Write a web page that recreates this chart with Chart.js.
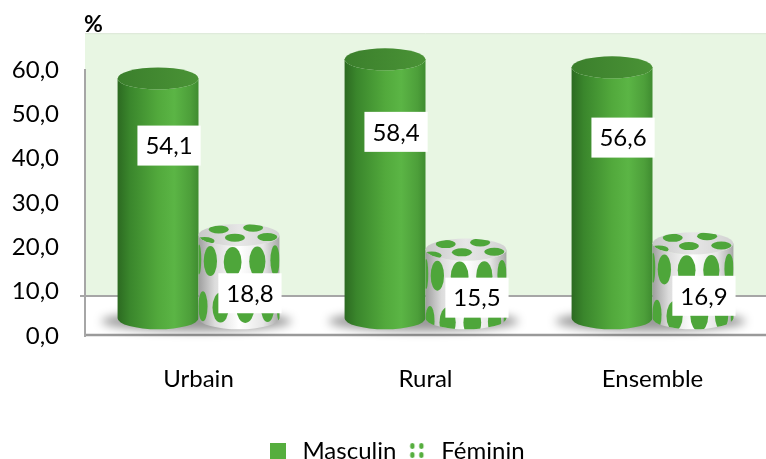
<!DOCTYPE html>
<html>
<head>
<meta charset="utf-8">
<script src="https://cdn.jsdelivr.net/npm/chart.js@4.4.1/dist/chart.umd.min.js"></script>
<style>
    html, body { margin: 0; padding: 0; background: #ffffff; overflow: hidden; }
    #wrap { width: 766px; height: 459px; }
</style>
</head>
<body>
<div id="wrap"><canvas id="chart" width="766" height="459"></canvas></div>
<script>
// chart data
const categories = ['Urbain', 'Rural', 'Ensemble'];
const masculin = [54.1, 58.4, 56.6];
const feminin = [18.8, 15.5, 16.9];
const yMax = 60;
const yStep = 10;

const FONT = 'Lato';
Chart.defaults.font.family = FONT;
Chart.defaults.color = '#000000';

// small legend icons
function makeSquareIcon() {
    const c = document.createElement('canvas');
    c.width = 16; c.height = 16;
    const g = c.getContext('2d');
    g.fillStyle = '#56ae3e';
    g.fillRect(0, 0, 16, 16);
    return c;
}

function makeDotsIcon() {
    const c = document.createElement('canvas');
    c.width = 16; c.height = 16;
    const g = c.getContext('2d');
    g.fillStyle = '#56ae3e';
    [[3, 3], [12, 3], [3, 12], [12, 12]].forEach(p => {
        g.beginPath();
        g.ellipse(p[0], p[1], 2.2, 3, 0, 0, Math.PI * 2);
        g.fill();
    });
    return c;
}

function fmt(v) {
    return v.toFixed(1).replace('.', ',');
}

function bodyPath(ctx, left, right, top, base, ry) {
    const cx = (left + right) / 2, rx = (right - left) / 2;
    ctx.beginPath();
    ctx.moveTo(left, top);
    ctx.lineTo(left, base);
    ctx.ellipse(cx, base, rx, ry, 0, Math.PI, 0, true);
    ctx.lineTo(right, top);
    ctx.ellipse(cx, top, rx, ry, 0, 0, Math.PI, false);
    ctx.closePath();
}

function drawGreenCylinder(ctx, x, w, top, base) {
    const left = x - w / 2, right = x + w / 2, ry = 11;
    const grad = ctx.createLinearGradient(left, 0, right, 0);
    grad.addColorStop(0, '#2c6a21');
    grad.addColorStop(0.15, '#3a862c');
    grad.addColorStop(0.5, '#52a93c');
    grad.addColorStop(0.7, '#5bb545');
    grad.addColorStop(0.9, '#4d9f3a');
    grad.addColorStop(1, '#3f8c30');
    bodyPath(ctx, left, right, top, base, ry);
    ctx.fillStyle = grad;
    ctx.fill();

    const tg = ctx.createLinearGradient(left, 0, right, 0);
    tg.addColorStop(0, '#3b7f2c');
    tg.addColorStop(1, '#4a9336');
    ctx.beginPath();
    ctx.ellipse(x, top, w / 2, ry, 0, 0, Math.PI * 2);
    ctx.fillStyle = tg;
    ctx.fill();
}

function drawDottedCylinder(ctx, x, w, top, base) {
    const left = x - w / 2, right = x + w / 2, ry = 11, rx = w / 2;
    const grad = ctx.createLinearGradient(left, 0, right, 0);
    grad.addColorStop(0, '#9e9e9e');
    grad.addColorStop(0.2, '#dcdcdc');
    grad.addColorStop(0.5, '#ffffff');
    grad.addColorStop(0.8, '#e6e6e6');
    grad.addColorStop(1, '#a8a8a8');
    ctx.save();
    bodyPath(ctx, left, right, top, base, ry);
    ctx.fillStyle = grad;
    ctx.fill();
    ctx.clip();
    // dots wrapped around the body
    ctx.fillStyle = '#4ea63a';
    for (let row = 0; row < 6; row++) {
        const cy = top + 24 + row * 46;
        const off = row % 2 ? 0.5 : 0;
        for (let k = -1; k <= 6; k++) {
            const th = (k + off + 0.25) * Math.PI / 5;
            if (th <= 0 || th >= Math.PI) continue;
            const dx = x - rx * Math.cos(th);
            const dw = 8 * Math.sin(th) + 1;
            ctx.beginPath();
            ctx.ellipse(dx, cy + 3 * Math.sin(th), dw, 15, 0, 0, Math.PI * 2);
            ctx.fill();
        }
    }
    ctx.restore();

    // top face
    ctx.save();
    ctx.beginPath();
    ctx.ellipse(x, top, rx, ry, 0, 0, Math.PI * 2);
    const tg = ctx.createLinearGradient(left, 0, right, 0);
    tg.addColorStop(0, '#c8c8c8');
    tg.addColorStop(0.5, '#e6e6e6');
    tg.addColorStop(1, '#d2d2d2');
    ctx.fillStyle = tg;
    ctx.fill();
    ctx.clip();
    ctx.fillStyle = '#4ea63a';
    [[-0.5, -0.5], [0.35, -0.65], [-0.1, 0.25], [0.7, 0.2], [-0.85, 0.55]].forEach(p => {
        ctx.beginPath();
        ctx.ellipse(x + p[0] * rx, top + p[1] * ry, 10, 4, 0, 0, Math.PI * 2);
        ctx.fill();
    });
    ctx.restore();
}

const cylinderPlugin = {
    id: 'cylinders',
    afterLayout(chart) {
        // nudge the legend a little to the right, as in the source
        chart.legend.left += 8;
        chart.legend.right += 8;
    },
    beforeDraw(chart) {
        const ctx = chart.ctx;
        const area = chart.chartArea;
        const y = chart.scales.y;
        const wallTop = y.getPixelForValue(68.3);
        const floorTop = y.getPixelForValue(9);
        const floorBottom = y.getPixelForValue(0);
        ctx.save();
        // back wall
        ctx.fillStyle = '#e8f6e3';
        ctx.fillRect(area.left, wallTop, chart.width - area.left, floorTop - wallTop);
        ctx.strokeStyle = '#dde8d8';
        ctx.lineWidth = 1;
        ctx.beginPath();
        ctx.moveTo(area.left, wallTop + 0.5);
        ctx.lineTo(chart.width, wallTop + 0.5);
        ctx.stroke();
        // floor
        ctx.fillStyle = '#ffffff';
        ctx.fillRect(area.left, floorTop, chart.width - area.left, floorBottom - floorTop);
        ctx.strokeStyle = '#a6a6a6';
        ctx.lineWidth = 2;
        ctx.beginPath();
        ctx.moveTo(area.left - 5, floorTop);
        ctx.lineTo(chart.width, floorTop);
        ctx.stroke();
        ctx.strokeStyle = '#9a9a9a';
        ctx.lineWidth = 2.5;
        ctx.beginPath();
        ctx.moveTo(area.left, floorBottom - 1);
        ctx.lineTo(chart.width, floorBottom - 1);
        ctx.stroke();
        // "%" unit
        ctx.fillStyle = '#000000';
        ctx.font = 'bold 23px ' + FONT;
        ctx.textAlign = 'left';
        ctx.textBaseline = 'middle';
        ctx.fillText('%', area.left - 1, wallTop - 9);
        ctx.restore();
    },
    afterDatasetsDraw(chart) {
        const ctx = chart.ctx;
        const y2 = chart.scales.y2;
        const m0 = chart.getDatasetMeta(0).data;
        const m1 = chart.getDatasetMeta(1).data;
        ctx.save();
        // soft shadows
        for (let i = 0; i < categories.length; i++) {
            const a = m0[i].getProps(['x', 'width', 'base'], true);
            const b = m1[i].getProps(['x', 'width', 'base'], true);
            const l = a.x - a.width / 2, r = b.x + b.width / 2;
            ctx.save();
            ctx.filter = 'blur(5px)';
            ctx.fillStyle = 'rgba(0,0,0,0.4)';
            ctx.beginPath();
            ctx.ellipse((l + r) / 2 - 2, a.base + 3, (r - l) / 2 + 14, 10, 0, 0, Math.PI * 2);
            ctx.fill();
            ctx.restore();
        }
        for (let i = 0; i < categories.length; i++) {
            const a = m0[i].getProps(['x', 'y', 'width', 'base'], true);
            const b = m1[i].getProps(['x', 'y', 'width', 'base'], true);
            drawGreenCylinder(ctx, a.x, a.width, a.y, a.base);
            drawDottedCylinder(ctx, b.x, b.width, b.y, b.base);
        }
        // value labels
        ctx.font = '24px ' + FONT;
        ctx.textAlign = 'center';
        ctx.textBaseline = 'middle';
        const put = (bar, value, frac) => {
            const p = bar.getProps(['x'], true);
            const cx = p.x + 11;
            const cy = y2.getPixelForValue(value * frac);
            const text = fmt(value);
            const tw = ctx.measureText(text).width;
            ctx.fillStyle = '#ffffff';
            ctx.fillRect(cx - tw / 2 - 8, cy - 20, tw + 16, 40);
            ctx.fillStyle = '#000000';
            ctx.fillText(text, cx, cy + 1);
        };
        for (let i = 0; i < categories.length; i++) {
            put(m0[i], masculin[i], 0.72);
            put(m1[i], feminin[i], 0.3);
        }
        ctx.restore();
    }
};

const ctx = document.getElementById('chart').getContext('2d');
new Chart(ctx, {
    type: 'bar',
    data: {
        labels: categories,
        datasets: [
            {
                label: 'Masculin',
                data: masculin,
                yAxisID: 'y2',
                backgroundColor: 'rgba(0,0,0,0)',
                borderWidth: 0,
                pointStyle: makeSquareIcon()
            },
            {
                label: 'Féminin',
                data: feminin,
                yAxisID: 'y2',
                backgroundColor: 'rgba(0,0,0,0)',
                borderWidth: 0,
                pointStyle: makeDotsIcon()
            }
        ]
    },
    options: {
        responsive: false,
        animation: false,
        layout: { padding: { left: 0, right: -9, top: 70, bottom: -14 } },
        datasets: { bar: { categoryPercentage: 0.713, barPercentage: 1 } },
        plugins: {
            legend: {
                position: 'bottom',
                labels: {
                    usePointStyle: true,
                    font: { size: 24 },
                    color: '#000000',
                    padding: 9
                }
            },
            tooltip: { enabled: false }
        },
        scales: {
            x: {
                grid: { display: false, drawTicks: false },
                border: { display: false },
                ticks: { font: { size: 24 }, padding: 29, color: '#000000' },
                afterFit: s => { s.height = 94; }
            },
            y: {
                min: 0,
                max: yMax,
                afterFit: s => { s.width = 85; },
                grid: { display: false, drawTicks: false },
                border: { color: '#a6a6a6', width: 2 },
                ticks: {
                    stepSize: yStep,
                    font: { size: 24 },
                    padding: 26,
                    color: '#000000',
                    callback: v => fmt(v)
                }
            },
            y2: {
                display: false,
                min: -4,
                max: yMax - 4
            }
        }
    },
    plugins: [cylinderPlugin]
});
</script>
</body>
</html>
